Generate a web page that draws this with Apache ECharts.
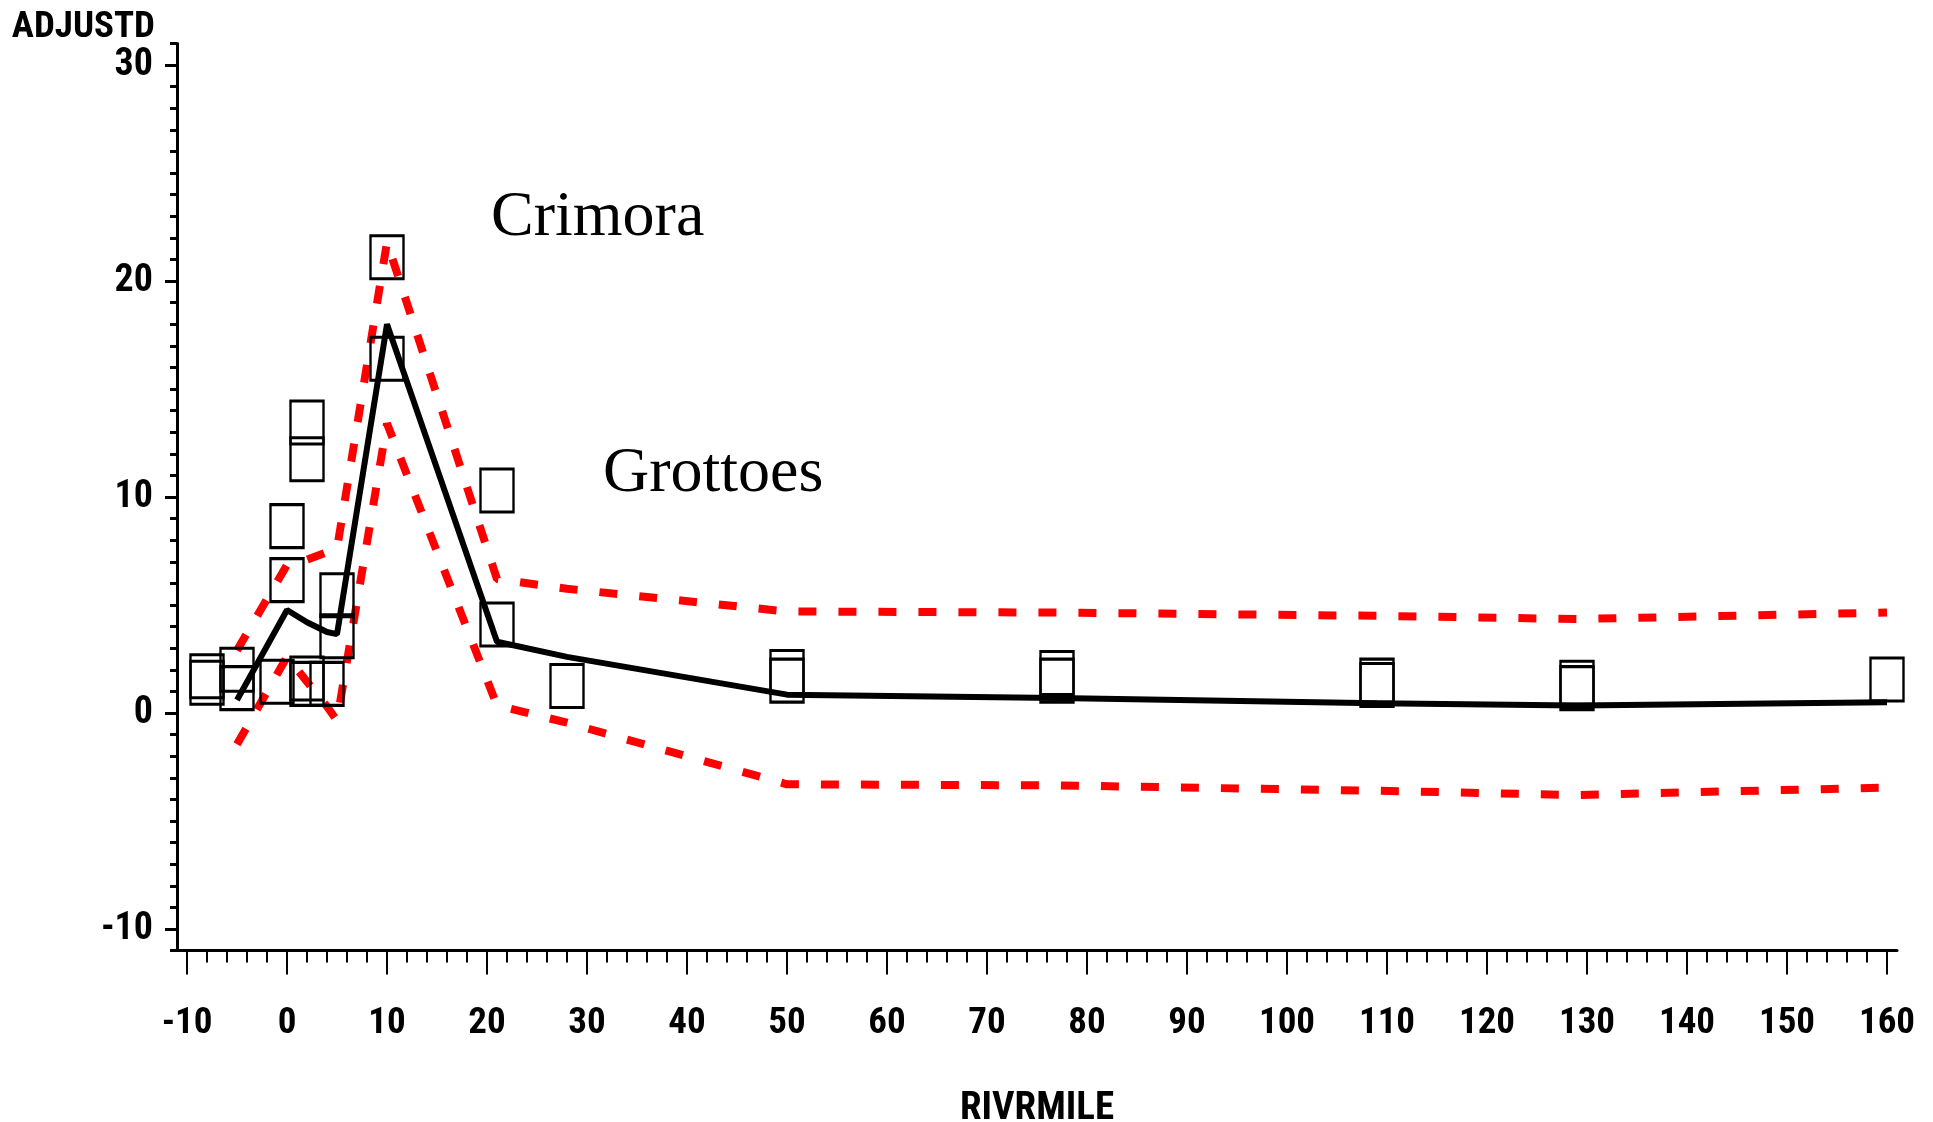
<!DOCTYPE html>
<html>
<head>
<meta charset="utf-8">
<title>ADJUSTD by RIVRMILE</title>
<script src="https://cdn.jsdelivr.net/npm/echarts@6/dist/echarts.min.js"></script>
<style>
  html, body { margin: 0; padding: 0; background: #ffffff; }
  #chart { width: 1933px; height: 1122px; }
</style>
</head>
<body>
<div id="chart"></div>
<script>
// Observed stations: river mile and adjusted value
const obsMile = [-8, -8, -5, -5, -1, 0, 0, 2, 2, 2, 2, 4, 5, 5, 10, 10, 21, 21, 28, 50, 50, 77, 77, 109, 109, 129, 129, 160];
const obsAdj  = [1.7, 1.4, 2.0, 1.15, 1.45, 8.65, 6.15, 13.45, 11.75, 1.6, 1.35, 1.35, 5.45, 3.55, 21.1, 16.4, 10.3, 4.1, 1.25, 1.9, 1.5, 1.85, 1.5, 1.5, 1.3, 1.4, 1.15, 1.55];

// Fitted curve and its upper / lower limits
const fitMile  = [-5, 0, 2, 4, 5, 10, 21, 28, 50, 77, 109, 129, 160];
const fitAdj   = [0.6, 4.77, 4.2, 3.75, 3.65, 18.0, 3.3, 2.6, 0.85, 0.7, 0.45, 0.35, 0.5];
const upperAdj = [2.9, 6.85, 7.1, 7.45, 7.6, 21.8, 6.2, 5.75, 4.7, 4.65, 4.5, 4.35, 4.65];
const lowerAdj = [-1.45, 2.6, 1.45, 0.3, -0.35, 13.4, 0.35, -0.45, -3.3, -3.35, -3.6, -3.8, -3.45];

// Place names along the river
const siteNames = ['Crimora', 'Grottoes'];
const siteMile  = [20.4, 31.6];
const siteAdj   = [22.9, 11.05];

// Axis ticks
const xTicks = [-10, 0, 10, 20, 30, 40, 50, 60, 70, 80, 90, 100, 110, 120, 130, 140, 150, 160];
const yTicks = [-10, 0, 10, 20, 30];

const xMinor = [];
for (let v = -10; v <= 160; v += 2) xMinor.push(v);
const yMinor = [];
for (let v = -11; v <= 31; v += 1) yMinor.push(v);

const X_MIN = -11, X_MAX = 161, Y_MIN = -11, Y_MAX = 31;

const tickFont = "'Liberation Sans Narrow', 'Arial Narrow', 'Noto Sans Condensed', 'Roboto Condensed', 'DejaVu Sans Condensed', sans-serif";

const pairs = (xs, ys) => xs.map((x, i) => [x, ys[i]]);

const chart = echarts.init(document.getElementById('chart'), null, { renderer: 'canvas' });

const option = {
  animation: false,
  backgroundColor: '#ffffff',
  grid: { left: 177, right: 36, top: 43.4, bottom: 171.4, containLabel: false, outerBoundsMode: 'none' },
  xAxis: [
    {
      type: 'value', min: X_MIN, max: X_MAX,
      name: 'RIVRMILE', nameLocation: 'middle', nameGap: 139,
      nameTextStyle: { fontFamily: tickFont, fontWeight: 'bold', fontSize: 39, color: '#000' },
      axisLine: { show: true, onZero: false, lineStyle: { color: '#000', width: 3 } },
      axisTick: { show: true, customValues: xTicks, length: 24, lineStyle: { color: '#000', width: 2 } },
      axisLabel: { show: true, customValues: xTicks, margin: 55, fontFamily: tickFont, fontWeight: 'bold', fontSize: 37, color: '#000' },
      splitLine: { show: false }
    },
    {
      type: 'value', min: X_MIN, max: X_MAX, position: 'bottom',
      axisLine: { show: false, onZero: false },
      axisTick: { show: true, customValues: xMinor, length: 12, lineStyle: { color: '#000', width: 2 } },
      axisLabel: { show: false },
      splitLine: { show: false }
    }
  ],
  yAxis: [
    {
      type: 'value', min: Y_MIN, max: Y_MAX,
      name: 'ADJUSTD', nameLocation: 'end', nameGap: 15,
      nameTextStyle: { fontFamily: tickFont, fontWeight: 'bold', fontSize: 37, color: '#000', align: 'right', verticalAlign: 'middle', padding: [0, 22, 0, 0] },
      axisLine: { show: true, onZero: false, lineStyle: { color: '#000', width: 3 } },
      axisTick: { show: true, customValues: yTicks, length: 12, lineStyle: { color: '#000', width: 3 } },
      axisLabel: { show: true, customValues: yTicks, margin: 24, padding: [11, 0, 0, 0], fontFamily: tickFont, fontWeight: 'bold', fontSize: 38, color: '#000' },
      splitLine: { show: false }
    },
    {
      type: 'value', min: Y_MIN, max: Y_MAX, position: 'left',
      axisLine: { show: false, onZero: false },
      axisTick: { show: true, customValues: yMinor, length: 7, lineStyle: { color: '#000', width: 3 } },
      axisLabel: { show: false },
      splitLine: { show: false }
    }
  ],
  series: [
    {
      name: 'upper', type: 'line', silent: true, symbol: 'none', z: 2,
      data: pairs(fitMile, upperAdj),
      lineStyle: { color: '#ff0000', width: 8, type: [18, 22], cap: 'butt' }
    },
    {
      name: 'lower', type: 'line', silent: true, symbol: 'none', z: 2,
      data: pairs(fitMile, lowerAdj),
      lineStyle: { color: '#ff0000', width: 8, type: [18, 22], cap: 'butt' }
    },
    {
      name: 'fit', type: 'line', silent: true, symbol: 'none', z: 3,
      data: pairs(fitMile, fitAdj),
      lineStyle: { color: '#000000', width: 6 }
    },
    {
      name: 'observed', type: 'scatter', silent: true, z: 4,
      symbol: 'rect', symbolSize: [33, 43],
      data: pairs(obsMile, obsAdj),
      itemStyle: { color: 'rgba(0,0,0,0)', borderColor: '#000', borderWidth: 2.7, opacity: 1 }
    },
    {
      name: 'sites', type: 'scatter', silent: true, z: 5,
      symbolSize: 0,
      itemStyle: { opacity: 1 },
      data: siteNames.map((n, i) => ({ name: n, value: [siteMile[i], siteAdj[i]] })),
      label: {
        show: true, position: [0, 0], align: 'left', verticalAlign: 'middle',
        formatter: p => p.name,
        fontFamily: "'Liberation Serif', 'Times New Roman', serif", fontSize: 64, color: '#000000', opacity: 1
      }
    }
  ]
};

chart.setOption(option);
</script>
</body>
</html>
